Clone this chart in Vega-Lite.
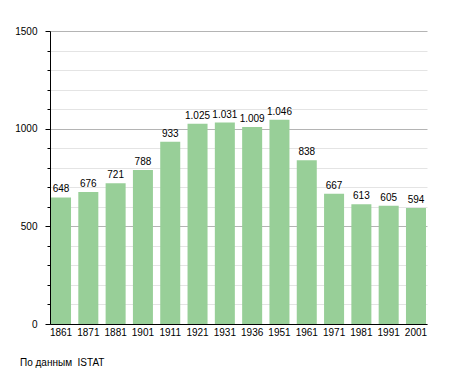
{
  "$schema": "https://vega.github.io/schema/vega-lite/v6.json",
  "autosize": "none",
  "width": 377,
  "height": 293,
  "padding": {"left": 50, "top": 31, "right": 28, "bottom": 49},
  "background": "white",
  "config": {
    "locale": {"number": {"decimal": ",", "thousands": ".", "grouping": [3], "currency": ["", ""]}},
    "font": "Liberation Sans",
    "view": {"stroke": null}
  },
  "title": {
    "text": "По данным\u00a0 ISTAT",
    "orient": "bottom",
    "anchor": "start",
    "frame": "group",
    "dx": -30,
    "offset": 21,
    "fontSize": 10,
    "fontWeight": "normal",
    "font": "Liberation Sans",
    "color": "black"
  },
  "data": {
    "values": [
      {"year": "1861", "pop": 648},
      {"year": "1871", "pop": 676},
      {"year": "1881", "pop": 721},
      {"year": "1901", "pop": 788},
      {"year": "1911", "pop": 933},
      {"year": "1921", "pop": 1025},
      {"year": "1931", "pop": 1031},
      {"year": "1936", "pop": 1009},
      {"year": "1951", "pop": 1046},
      {"year": "1961", "pop": 838},
      {"year": "1971", "pop": 667},
      {"year": "1981", "pop": 613},
      {"year": "1991", "pop": 605},
      {"year": "2001", "pop": 594}
    ]
  },
  "encoding": {
    "x": {
      "field": "year",
      "type": "ordinal",
      "sort": null,
      "scale": {"paddingInner": 0.267, "paddingOuter": 0.037},
      "axis": {
        "title": null,
        "labelAngle": 0,
        "ticks": false,
        "labelPadding": 3,
        "labelFontSize": 10,
        "labelColor": "black",
        "domainColor": "black",
        "domainWidth": 1,
        "grid": false
      }
    },
    "y": {
      "field": "pop",
      "type": "quantitative",
      "scale": {"domain": [0, 1500], "nice": false},
      "axis": {
        "title": null,
        "values": [0, 100, 200, 300, 400, 500, 600, 700, 800, 900, 1000, 1100, 1200, 1300, 1400, 1500],
        "labelExpr": "datum.value % 500 === 0 ? format(datum.value, 'd') : ''",
        "labelFontSize": 10,
        "labelColor": "black",
        "labelPadding": 8,
        "domainColor": "black",
        "domainWidth": 1,
        "tickColor": "black",
        "tickSize": {"condition": {"test": "datum.value % 500 === 0", "value": 5}, "value": 3},
        "grid": true,
        "gridColor": {"condition": {"test": "datum.value % 500 === 0", "value": "#b4b4b4"}, "value": "#e4e4e4"},
        "gridWidth": 1
      }
    }
  },
  "layer": [
    {"mark": {"type": "bar", "color": "#98cf98"}},
    {
      "mark": {"type": "text", "baseline": "bottom", "dy": -3, "fontSize": 10, "color": "black"},
      "encoding": {"text": {"field": "pop", "type": "quantitative", "format": ",d"}}
    }
  ]
}
